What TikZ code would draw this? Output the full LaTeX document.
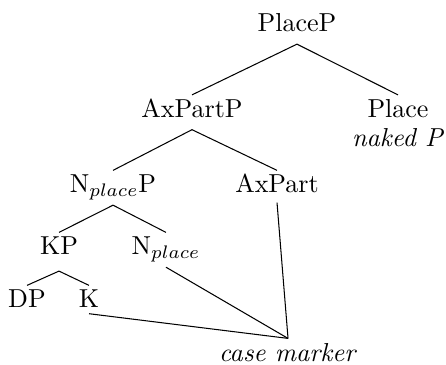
\documentclass[tikz,border=0pt]{standalone}
\usepackage{amsmath,amssymb}
\usepackage{tikz}

\begin{document}
\begin{tikzpicture}[cat/.style={anchor=base,inner sep=1.5pt,text height=7pt,text depth=3pt}]
 \useasboundingbox (0,0) rectangle (6.033,4.937);
 \node[cat] (placeP) at (4.017,4.505) {PlaceP};
 \node[cat] (axpartP) at (2.597,3.348) {AxPartP};
 \node[cat] (place) at (5.384,3.348) {Place};
 \node[cat,text height=5pt] (naked) at (5.384,2.949) {\textit{naked P}};
 \node[cat] (nplaceP) at (1.529,2.327) {N$_{place}$P};
 \node[cat] (axpart) at (3.747,2.327) {AxPart};
 \node[cat] (kp) at (0.798,1.488) {KP};
 \node[cat] (nplace) at (2.245,1.488) {N$_{place}$};
 \node[cat] (dp) at (0.365,0.771) {DP};
 \node[cat] (k) at (1.204,0.771) {K};
 \node[cat] (case) at (3.896,0.054) {\textit{case marker}};
 \foreach \a/\b in {placeP/axpartP,placeP/place,axpartP/nplaceP,axpartP/axpart,
   nplaceP/kp,nplaceP/nplace,nplace/case}
  \draw (\a.south) -- (\b.north);
 \draw (kp.south) ++(0,-1.5pt) -- (dp.north);
 \draw (kp.south) ++(0,-1.5pt) -- (k.north);
 \draw ([yshift=2.5pt]k.south) -- (case.north);
 \draw ([yshift=1pt]axpart.south) -- (case.north);
\end{tikzpicture}
\end{document}
